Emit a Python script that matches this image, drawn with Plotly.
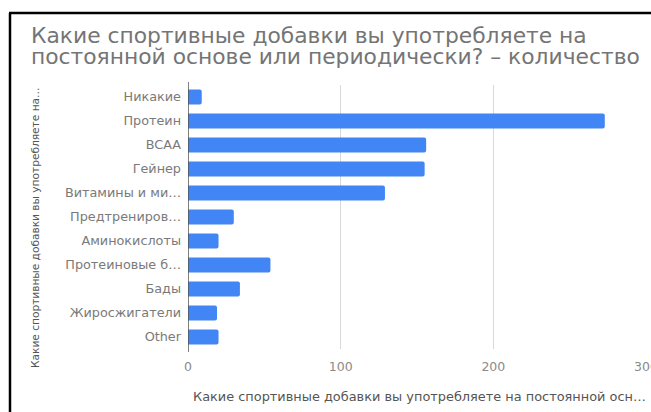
import plotly.graph_objects as go

# Survey answers: which supplements are used regularly or from time to time
categories = [
    "Никакие",
    "Протеин",
    "BCAA",
    "Гейнер",
    "Витамины и ми…",
    "Предтрениров…",
    "Аминокислоты",
    "Протеиновые б…",
    "Бады",
    "Жиросжигатели",
    "Other",
]
counts = [9, 273, 156, 155, 129, 30, 20, 54, 34, 19, 20]
x_ticks = [0, 100, 200, 300]

title_lines = [
    "Какие спортивные добавки вы употребляете на",
    "постоянной основе или периодически? – количество",
]
x_title = "Какие спортивные добавки вы употребляете на постоянной осн…"
y_title = "Какие спортивные добавки вы употребляете на…"

W, H = 651, 412
M_L, M_R, M_T, M_B = 188, 5, 85, 63
PW, PH = W - M_L - M_R, H - M_T - M_B


def px_x(px):
    return (px - M_L) / PW


def px_y(py):
    return 1 - (py - M_T) / PH


FONT = "DejaVu Sans"

fig = go.Figure(
    go.Bar(
        x=counts,
        y=categories,
        orientation="h",
        marker=dict(color="#4285F4", cornerradius=2, line=dict(width=0)),
        width=0.62,
        hoverinfo="x+y",
    )
)

fig.update_layout(
    width=W,
    height=H,
    margin=dict(l=M_L, r=M_R, t=M_T, b=M_B, pad=0, autoexpand=False),
    paper_bgcolor="white",
    plot_bgcolor="white",
    showlegend=False,
    font=dict(family=FONT, color="#757575"),
    xaxis=dict(
        range=[0, 300],
        tickvals=x_ticks,
        showgrid=True,
        gridcolor="#d9d9d9",
        gridwidth=1,
        zeroline=False,
        showline=False,
        automargin=False,
        tickfont=dict(size=12.5, color="#8a8a8a"),
        ticklabelstandoff=8,
        ticklabeloverflow="allow",
        fixedrange=True,
    ),
    yaxis=dict(
        categoryorder="array",
        categoryarray=categories,
        autorange="reversed",
        showgrid=False,
        zeroline=False,
        showline=False,
        automargin=False,
        tickfont=dict(size=12.8, color="#7a7a7a"),
        ticklabelstandoff=6,
        fixedrange=True,
    ),
)

# Baseline at zero
fig.add_shape(
    type="line", xref="x", yref="paper",
    x0=0, x1=0, y0=px_y(352), y1=px_y(82),
    line=dict(color="#555555", width=1.5),
)

# Frame around the card (left and top edges)
fig.add_shape(
    type="line", xref="paper", yref="paper",
    x0=px_x(10), x1=px_x(10), y0=px_y(13), y1=px_y(H + 5),
    line=dict(color="black", width=2.5),
)
fig.add_shape(
    type="line", xref="paper", yref="paper",
    x0=px_x(9), x1=px_x(W + 5), y0=px_y(13), y1=px_y(13),
    line=dict(color="black", width=2.5),
)

# Two-line chart title
for text, cy in zip(title_lines, [35.5, 56]):
    fig.add_annotation(
        text=text, xref="paper", yref="paper",
        x=px_x(29), y=px_y(cy), xanchor="left", yanchor="middle",
        showarrow=False, font=dict(family=FONT, size=21.8, color="#757575"),
    )

# Axis titles
fig.add_annotation(
    text=x_title, xref="paper", yref="paper",
    x=px_x(191), y=px_y(396), xanchor="left", yanchor="middle",
    showarrow=False, font=dict(family=FONT, size=12.9, color="#555555"),
)
fig.add_annotation(
    text=y_title, xref="paper", yref="paper",
    x=px_x(35), y=px_y(228), xanchor="center", yanchor="middle",
    textangle=-90, showarrow=False,
    font=dict(family=FONT, size=10.6, color="#555555"),
)

fig.write_html("out.html", config={"displayModeBar": False})
